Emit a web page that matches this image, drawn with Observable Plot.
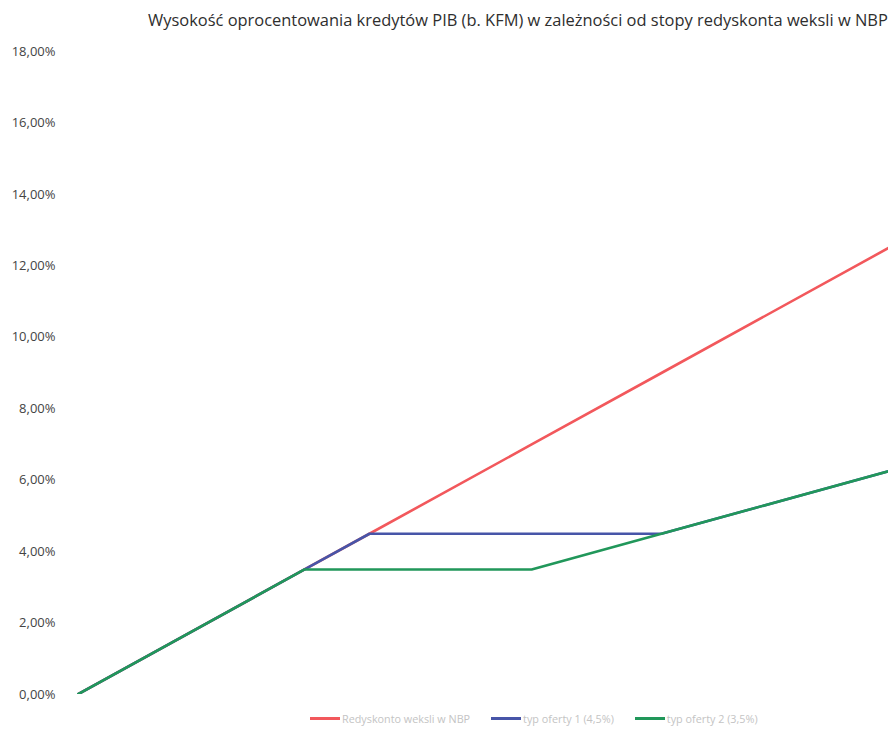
<!DOCTYPE html>
<html>
<head>
<meta charset="utf-8">
<script src="https://cdn.jsdelivr.net/npm/d3@7"></script>
<script src="https://cdn.jsdelivr.net/npm/@observablehq/plot@0.6"></script>
<style>
  html, body { margin: 0; padding: 0; background: #fff; }
  #wrap { position: relative; width: 888px; height: 732px; overflow: hidden; font-family: "Open Sans", sans-serif; }
  #title { position: absolute; top: 8px; left: 148px; white-space: nowrap; font-size: 16.45px; color: #2e2e2e; }
  #chart { position: absolute; top: 38px; left: 0; }
  #legend { position: absolute; top: 711px; left: 310px; display: flex; gap: 21px; font-size: 10.8px; color: #c4c4c4; white-space: nowrap; }
  .item { display: flex; align-items: center; }
  .swatch { width: 30px; height: 3px; margin-right: 2px; }
</style>
</head>
<body>
<div id="wrap">
  <div id="title">Wysokość oprocentowania kredytów PIB (b. KFM) w zależności od stopy redyskonta weksli w NBP</div>
  <div id="chart"></div>
  <div id="legend"></div>
</div>
<script>
// Rediscount rate (x, %) and resulting loan interest (y, %)
const rates = [0, 3.5, 4.5, 7, 9, 12.5];
const redyskonto = [0, 3.5, 4.5, 7, 9, 12.5];
const oferta1 = [0, 3.5, 4.5, 4.5, 4.5, 6.25];
const oferta2 = [0, 3.5, 3.5, 3.5, 4.5, 6.25];
const seriesNames = ["Redyskonto weksli w NBP", "typ oferty 1 (4,5%)", "typ oferty 2 (3,5%)"];
const seriesColors = ["#f2585c", "#4755a8", "#21975a"];
const yTicks = [0, 2, 4, 6, 8, 10, 12, 14, 16, 18];

const seriesValues = [redyskonto, oferta1, oferta2];
const rows = [];
seriesValues.forEach((vals, s) => {
  rates.forEach((r, i) => rows.push({series: seriesNames[s], x: r, y: vals[i]}));
});

const fmt = d => d.toFixed(2).replace(".", ",") + "%";

const chart = Plot.plot({
  width: 888,
  height: 670,
  marginTop: 13,
  marginBottom: 14,
  marginLeft: 77,
  marginRight: 0,
  style: { fontFamily: "Open Sans", fontSize: "13px", color: "#444", background: "transparent" },
  x: { domain: [0, 12.5], axis: null },
  y: { domain: [0, 18], ticks: yTicks, tickFormat: fmt, tickSize: 0, tickPadding: 22, label: null },
  color: { domain: seriesNames, range: seriesColors },
  marks: seriesNames.map(name =>
    Plot.line(rows.filter(r => r.series === name), {
      x: "x", y: "y", stroke: "series", strokeWidth: 2.6, clip: true
    })
  )
});
document.getElementById("chart").appendChild(chart);

const legend = document.getElementById("legend");
seriesNames.forEach((name, i) => {
  const item = document.createElement("div");
  item.className = "item";
  const sw = document.createElement("div");
  sw.className = "swatch";
  sw.style.background = seriesColors[i];
  const label = document.createElement("span");
  label.textContent = name;
  item.appendChild(sw);
  item.appendChild(label);
  legend.appendChild(item);
});
</script>
</body>
</html>
